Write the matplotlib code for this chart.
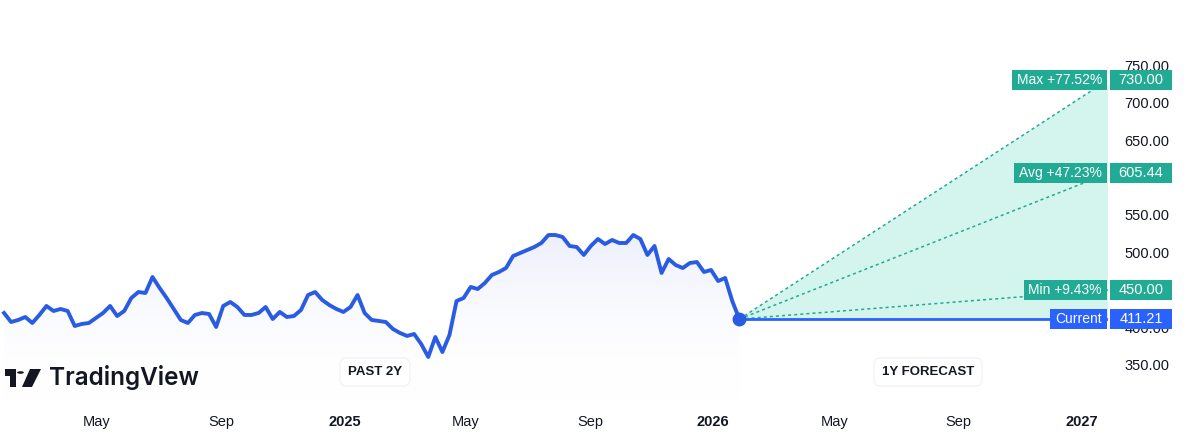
import matplotlib
matplotlib.use("Agg")
import matplotlib.pyplot as plt
import matplotlib.dates as mdates
from matplotlib.patches import Polygon, Circle, Rectangle
from matplotlib.transforms import IdentityTransform
import numpy as np
import pandas as pd

plt.rcParams['font.family'] = ['Liberation Sans', 'DejaVu Sans']

# weekly closes, past 2 years
start_date = '2024-01-30'
closes = [419.3, 407.3, 410.0, 414.0, 406.0, 416.7, 428.7, 422.0, 424.7, 422.0,
          402.0, 404.7, 406.0, 412.7, 419.3, 428.7, 415.3, 422.0, 439.3, 447.3,
          446.0, 467.3, 452.7, 439.3, 424.7, 410.0, 406.0, 416.7, 419.3, 418.0,
          400.7, 428.7, 434.0, 427.3, 416.7, 416.7, 419.3, 427.3, 411.3, 420.7,
          414.0, 415.3, 423.3, 443.3, 447.3, 436.7, 430.0, 424.7, 420.7, 427.3,
          443.3, 419.3, 410.0, 408.7, 407.3, 398.0, 392.7, 388.7, 391.3, 378.0,
          360.7, 387.3, 367.3, 390.0, 435.3, 439.3, 454.0, 451.3, 459.3, 470.0,
          474.0, 479.3, 495.3, 499.3, 503.3, 507.3, 512.7, 523.3, 523.3, 520.7,
          508.7, 507.3, 496.7, 508.7, 518.0, 511.3, 516.7, 512.7, 512.7, 523.3,
          518.0, 496.7, 508.7, 472.7, 491.3, 483.3, 479.3, 486.0, 487.3, 474.0,
          476.7, 462.0, 466.0, 435.3, 411.21]

current = 411.21
target_names = ['Max', 'Avg', 'Min']
target_values = [730.00, 605.44, 450.00]
target_pcts = ['+77.52%', '+47.23%', '+9.43%']

# ticks whose labels are not hidden behind the price tags
y_ticks = [350, 400, 500, 550, 650, 700, 750]
x_tick_dates = ['2024-05-01', '2024-09-01', '2025-01-01', '2025-05-01', '2025-09-01',
                '2026-01-01', '2026-05-01', '2026-09-01', '2027-01-01']
x_tick_labels = ['May', 'Sep', '2025', 'May', 'Sep', '2026', 'May', 'Sep', '2027']

dates = pd.date_range(start_date, periods=len(closes), freq='7D')
last_date = dates[-1]
end_date = last_date + pd.DateOffset(years=1)

TEAL = '#22ab94'
BLUE = '#2962ff'
LINE = '#2a5ce3'
TXT = '#131722'

W, H = 1200, 445
fig = plt.figure(figsize=(12, 4.45), dpi=100)
fig.patch.set_facecolor('white')
ax = fig.add_axes([0, 45 / H, 1108 / W, 400 / H])
ax.set_facecolor('white')
ax.set_ylim(303.3, 836.7)
ax.set_xlim(pd.Timestamp('2024-01-26'), end_date)
for s in ax.spines.values():
    s.set_visible(False)

xd = mdates.date2num(dates)
x_last = mdates.date2num(last_date)
x_end = mdates.date2num(end_date)

# gradient under past line
ymin, ymax = ax.get_ylim()
grad = np.linspace(0, 1, 256).reshape(-1, 1)
cmap = matplotlib.colors.LinearSegmentedColormap.from_list(
    'g', [(1, 1, 1, 0.0), (0.93, 0.94, 0.99, 1.0)])
img = ax.imshow(grad, extent=[xd[0], x_last, ymin, max(closes)], origin='lower',
                aspect='auto', cmap=cmap, zorder=1)
poly_pts = [(xd[0], ymin)] + list(zip(xd, closes)) + [(x_last, ymin)]
clip = Polygon(poly_pts, closed=True, transform=ax.transData, facecolor='none', edgecolor='none')
ax.add_patch(clip)
img.set_clip_path(clip)

# forecast fill
ax.add_patch(Polygon([(x_last, current), (x_end, target_values[0]), (x_end, current)],
                     closed=True, facecolor='#d3f5ee', edgecolor='none', zorder=1.2))
for v in target_values:
    ax.plot([x_last, x_end], [current, v], color=TEAL, lw=1.1, ls=(0, (2, 2)), zorder=2)
ax.plot([x_last, x_end], [current, current], color=BLUE, lw=2, zorder=2.5)

ax.plot(dates, closes, color=LINE, lw=2.8, zorder=3, solid_joinstyle='round')
ax.plot([last_date], [current], 'o', color=LINE, ms=9, zorder=4)

# axes ticks
ax.yaxis.tick_right()
ax.set_yticks(y_ticks)
ax.set_yticklabels([f'{v:.2f}' for v in y_ticks])
ax.tick_params(axis='y', length=0, pad=12, labelsize=10.5, labelcolor=TXT)
ax.set_xticks([pd.Timestamp(d) for d in x_tick_dates])
ax.set_xticklabels(x_tick_labels)
ax.tick_params(axis='x', length=0, pad=11, labelsize=10.5, labelcolor=TXT)
for lbl in ax.get_xticklabels():
    if lbl.get_text().isdigit():
        lbl.set_fontweight('bold')

# right side labels
fig.canvas.draw()
renderer = fig.canvas.get_renderer()


def ypix(v):
    return ax.transData.transform((0, v))[1]


def side_label(name, value, color):
    yc = ypix(value)
    h = 20
    t = ax.text(1102, yc, name, transform=IdentityTransform(), ha='right', va='center',
                color='white', fontsize=10, zorder=11, clip_on=False)
    bb = t.get_window_extent(renderer)
    ax.add_patch(Rectangle((bb.x0 - 5, yc - h / 2), 1107 - (bb.x0 - 5), h,
                           transform=IdentityTransform(), facecolor=color, edgecolor='none',
                           zorder=10, clip_on=False))
    ax.add_patch(Rectangle((1110, yc - h / 2), 62, h, transform=IdentityTransform(),
                           facecolor=color, edgecolor='none', zorder=10, clip_on=False))
    ax.text(1141, yc, f'{value:.2f}', transform=IdentityTransform(), ha='center',
            va='center', color='white', fontsize=10.5, zorder=11, clip_on=False)


for n, v, p in zip(target_names, target_values, target_pcts):
    side_label(f'{n} {p}', v, TEAL)
side_label('Current', current, BLUE)

# period tags
for txt, xc in [('PAST 2Y', 375), ('1Y FORECAST', 928)]:
    fig.text(xc / W, 1 - 372 / H, txt, ha='center', va='center', fontsize=9.5,
             fontweight='bold', color=TXT, zorder=12,
             bbox=dict(boxstyle='round,pad=0.6,rounding_size=0.5', facecolor='white',
                       edgecolor='#f2f3f6', linewidth=1))

# logo
def px(x, y):
    return (x / W, 1 - y / H)


logo_col = '#131722'
fig.patches.append(Polygon([px(5, 369), px(16, 369), px(16, 387), px(10, 387), px(10, 376), px(5, 376)],
                           closed=True, transform=fig.transFigure, facecolor=logo_col, edgecolor='none'))
fig.patches.append(Circle(px(20.5, 372.5), 3.4 / W, transform=fig.transFigure,
                          facecolor=logo_col, edgecolor='none'))
fig.patches.append(Polygon([px(30, 369), px(41, 369), px(32, 387), px(22, 387)],
                           closed=True, transform=fig.transFigure, facecolor=logo_col, edgecolor='none'))
fig.text(49 / W, 1 - 378 / H, 'TradingView', ha='left', va='center', fontsize=17.5,
         fontweight='semibold', family=['Inter', 'DejaVu Sans'], color=logo_col)

fig.savefig('out.png', dpi=100)
